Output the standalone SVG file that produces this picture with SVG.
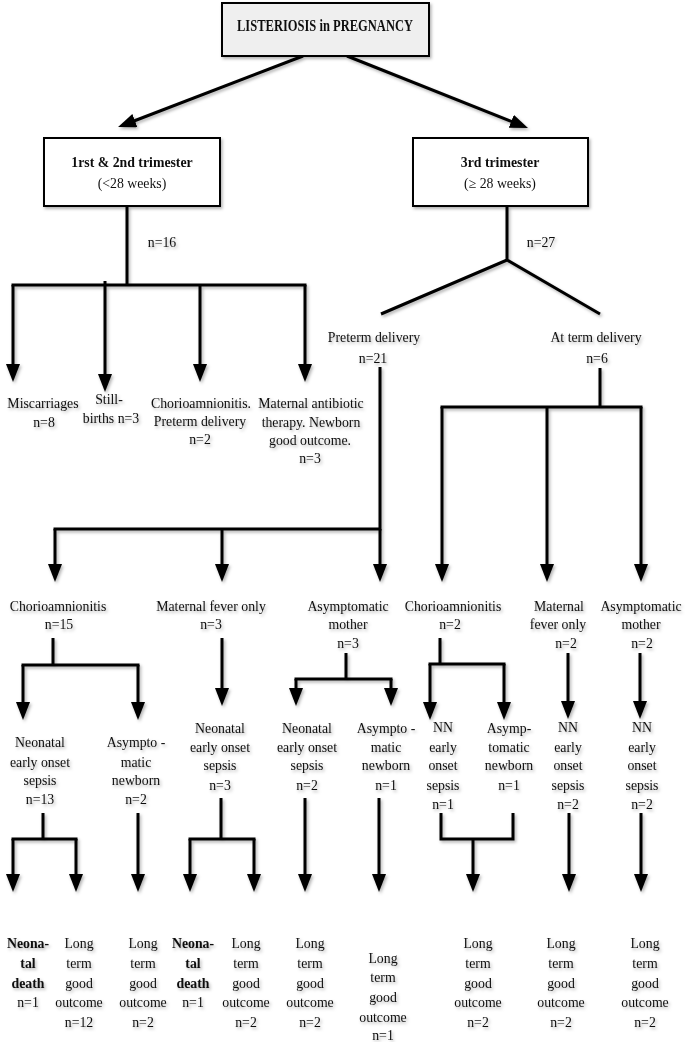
<svg xmlns="http://www.w3.org/2000/svg" width="685" height="1042" viewBox="0 0 685 1042">
<defs>
<style>
.t{font-family:"Liberation Serif","Times New Roman",serif;font-size:13.8px;text-anchor:middle;fill:#111}
.b{font-weight:bold}
.ln{stroke:#000;stroke-width:3;fill:none}
.ar{marker-end:url(#ah)}
.box{stroke:#000;stroke-width:2}
</style>
<marker id="ah" viewBox="0 0 18 14" refX="8" refY="7" markerWidth="18" markerHeight="14" markerUnits="userSpaceOnUse" orient="auto">
<path d="M0,0 L18,7 L0,14 z" fill="#000"/>
</marker>
<filter id="sh" x="-5%" y="-5%" width="110%" height="110%">
<feDropShadow dx="1.5" dy="2" stdDeviation="1.4" flood-color="#000" flood-opacity="0.3"/>
</filter>
</defs>
<rect width="685" height="1042" fill="#fff"/>
<g filter="url(#sh)">
<g id="connectors">
<path class="ln ar" d="M303,56 L127.4,123.5"/>
<path class="ln ar" d="M347,56 L518.7,124.3"/>
<path class="ln" d="M127,206 V285 M11.5,285 H306.5"/>
<path class="ln ar" d="M13,285 V372"/>
<path class="ln ar" d="M105,281 V382"/>
<path class="ln ar" d="M200,285 V372"/>
<path class="ln ar" d="M305,285 V372"/>
<path class="ln" d="M507,206 V260 M381,314 L507,260 L600,314"/>
<path class="ln" d="M380,367 V529 M53.5,529 H381.5"/>
<path class="ln ar" d="M55,529 V572"/>
<path class="ln ar" d="M222,529 V572"/>
<path class="ln ar" d="M380,529 V572"/>
<path class="ln" d="M600,368 V407 M440.5,407 H642.5"/>
<path class="ln ar" d="M442,407 V572"/>
<path class="ln ar" d="M547,407 V572"/>
<path class="ln ar" d="M641,407 V572"/>
<path class="ln" d="M53,638 V665 M21.5,665 H139.5"/>
<path class="ln ar" d="M23,665 V710"/>
<path class="ln ar" d="M138,665 V710"/>
<path class="ln ar" d="M222,638 V696"/>
<path class="ln" d="M346,653 V679 M294.5,679 H392.5"/>
<path class="ln ar" d="M296,679 V696"/>
<path class="ln ar" d="M391,679 V696"/>
<path class="ln" d="M440,638 V664 M428.5,664 H505.5"/>
<path class="ln ar" d="M430,664 V710"/>
<path class="ln ar" d="M504,664 V710"/>
<path class="ln ar" d="M568,653 V709"/>
<path class="ln ar" d="M640,653 V709"/>
<path class="ln" d="M43,813 V839 M11.5,839 H77.5"/>
<path class="ln ar" d="M13,839 V882"/>
<path class="ln ar" d="M76,839 V882"/>
<path class="ln ar" d="M138,813 V882"/>
<path class="ln" d="M221,798 V839 M188.5,839 H255.5"/>
<path class="ln ar" d="M190,839 V882"/>
<path class="ln ar" d="M254,839 V882"/>
<path class="ln ar" d="M305,798 V882"/>
<path class="ln ar" d="M379,798 V882"/>
<path class="ln" d="M441,813 V839 M513,813 V839 M439.5,839 H514.5"/>
<path class="ln ar" d="M473,839 V882"/>
<path class="ln ar" d="M569,813 V882"/>
<path class="ln ar" d="M641,813 V882"/>
</g>
<g id="root">
<rect class="box" x="222" y="3" width="207" height="53" fill="#efefef"/>
<text class="t b" x="325" y="31" style="font-size:16px" textLength="176" lengthAdjust="spacingAndGlyphs">LISTERIOSIS in PREGNANCY</text>
</g>
<g id="tri12">
<rect class="box" x="44" y="138" width="176" height="68" fill="#fff"/>
<text class="t b" x="132" y="167">1rst &amp; 2nd trimester</text>
<text class="t" x="132" y="188">(&lt;28 weeks)</text>
</g>
<g id="tri3">
<rect class="box" x="413" y="138" width="175" height="68" fill="#fff"/>
<text class="t b" x="500" y="167">3rd trimester</text>
<text class="t" x="500" y="188">(≥ 28 weeks)</text>
</g>
<g id="n16"><text class="t" x="162" y="247">n=16</text></g>
<g id="n27"><text class="t" x="541" y="247">n=27</text></g>
<g id="miscarriages"><text class="t" x="43" y="408">Miscarriages</text><text class="t" x="44" y="427">n=8</text></g>
<g id="stillbirths"><text class="t" x="109" y="404">Still-</text><text class="t" x="111" y="423">births n=3</text></g>
<g id="chorio-preterm"><text class="t" x="201" y="408">Chorioamnionitis.</text><text class="t" x="200" y="426">Preterm delivery</text><text class="t" x="200" y="444">n=2</text></g>
<g id="maternal-antibiotic"><text class="t" x="311" y="408">Maternal antibiotic</text><text class="t" x="311" y="427">therapy. Newborn</text><text class="t" x="310" y="445">good outcome.</text><text class="t" x="310" y="463">n=3</text></g>
<g id="preterm"><text class="t" x="374" y="342">Preterm delivery</text><text class="t" x="373" y="363">n=21</text></g>
<g id="atterm"><text class="t" x="596" y="342">At term delivery</text><text class="t" x="597" y="363">n=6</text></g>
<g id="pt-chorio"><text class="t" x="58" y="611">Chorioamnionitis</text><text class="t" x="59" y="629">n=15</text></g>
<g id="pt-fever"><text class="t" x="211" y="611">Maternal fever only</text><text class="t" x="211" y="629">n=3</text></g>
<g id="pt-asym"><text class="t" x="348" y="611">Asymptomatic</text><text class="t" x="348" y="629">mother</text><text class="t" x="348" y="648">n=3</text></g>
<g id="at-chorio"><text class="t" x="453" y="611">Chorioamnionitis</text><text class="t" x="450" y="629">n=2</text></g>
<g id="at-fever"><text class="t" x="559" y="611">Maternal</text><text class="t" x="558" y="629">fever only</text><text class="t" x="566" y="648">n=2</text></g>
<g id="at-asym"><text class="t" x="641" y="611">Asymptomatic</text><text class="t" x="641" y="629">mother</text><text class="t" x="642" y="648">n=2</text></g>
<g id="nn-sepsis-13"><text class="t" x="40" y="747">Neonatal</text><text class="t" x="40" y="767">early onset</text><text class="t" x="40" y="785">sepsis</text><text class="t" x="40" y="804">n=13</text></g>
<g id="asym-nb-2"><text class="t" x="136" y="747">Asympto -</text><text class="t" x="136" y="767">matic</text><text class="t" x="136" y="785">newborn</text><text class="t" x="136" y="804">n=2</text></g>
<g id="nn-sepsis-3"><text class="t" x="220" y="733">Neonatal</text><text class="t" x="220" y="752">early onset</text><text class="t" x="220" y="770">sepsis</text><text class="t" x="220" y="790">n=3</text></g>
<g id="nn-sepsis-2a"><text class="t" x="307" y="733">Neonatal</text><text class="t" x="307" y="752">early onset</text><text class="t" x="307" y="770">sepsis</text><text class="t" x="307" y="790">n=2</text></g>
<g id="asym-nb-1a"><text class="t" x="386" y="733">Asympto -</text><text class="t" x="386" y="752">matic</text><text class="t" x="386" y="770">newborn</text><text class="t" x="386" y="790">n=1</text></g>
<g id="nn-sepsis-1"><text class="t" x="443" y="732">NN</text><text class="t" x="443" y="752">early</text><text class="t" x="443" y="770">onset</text><text class="t" x="443" y="790">sepsis</text><text class="t" x="443" y="809">n=1</text></g>
<g id="asym-nb-1b"><text class="t" x="509" y="733">Asymp-</text><text class="t" x="509" y="752">tomatic</text><text class="t" x="509" y="770">newborn</text><text class="t" x="509" y="790">n=1</text></g>
<g id="nn-sepsis-2b"><text class="t" x="568" y="732">NN</text><text class="t" x="568" y="752">early</text><text class="t" x="568" y="770">onset</text><text class="t" x="568" y="790">sepsis</text><text class="t" x="568" y="809">n=2</text></g>
<g id="nn-sepsis-2c"><text class="t" x="642" y="732">NN</text><text class="t" x="642" y="752">early</text><text class="t" x="642" y="770">onset</text><text class="t" x="642" y="790">sepsis</text><text class="t" x="642" y="809">n=2</text></g>
<g id="death-1a"><text class="t b" x="28" y="948">Neona-</text><text class="t b" x="28" y="968">tal</text><text class="t b" x="28" y="988">death</text><text class="t" x="28" y="1007">n=1</text></g>
<g id="good-12"><text class="t" x="79" y="948">Long</text><text class="t" x="79" y="968">term</text><text class="t" x="79" y="988">good</text><text class="t" x="79" y="1007">outcome</text><text class="t" x="79" y="1027">n=12</text></g>
<g id="good-2a"><text class="t" x="143" y="948">Long</text><text class="t" x="143" y="968">term</text><text class="t" x="143" y="988">good</text><text class="t" x="143" y="1007">outcome</text><text class="t" x="143" y="1027">n=2</text></g>
<g id="death-1b"><text class="t b" x="193" y="948">Neona-</text><text class="t b" x="193" y="968">tal</text><text class="t b" x="193" y="988">death</text><text class="t" x="193" y="1007">n=1</text></g>
<g id="good-2b"><text class="t" x="246" y="948">Long</text><text class="t" x="246" y="968">term</text><text class="t" x="246" y="988">good</text><text class="t" x="246" y="1007">outcome</text><text class="t" x="246" y="1027">n=2</text></g>
<g id="good-2c"><text class="t" x="310" y="948">Long</text><text class="t" x="310" y="968">term</text><text class="t" x="310" y="988">good</text><text class="t" x="310" y="1007">outcome</text><text class="t" x="310" y="1027">n=2</text></g>
<g id="good-1"><text class="t" x="383" y="963">Long</text><text class="t" x="383" y="982">term</text><text class="t" x="383" y="1002">good</text><text class="t" x="383" y="1022">outcome</text><text class="t" x="383" y="1040">n=1</text></g>
<g id="good-2d"><text class="t" x="478" y="948">Long</text><text class="t" x="478" y="968">term</text><text class="t" x="478" y="988">good</text><text class="t" x="478" y="1007">outcome</text><text class="t" x="478" y="1027">n=2</text></g>
<g id="good-2e"><text class="t" x="561" y="948">Long</text><text class="t" x="561" y="968">term</text><text class="t" x="561" y="988">good</text><text class="t" x="561" y="1007">outcome</text><text class="t" x="561" y="1027">n=2</text></g>
<g id="good-2f"><text class="t" x="645" y="948">Long</text><text class="t" x="645" y="968">term</text><text class="t" x="645" y="988">good</text><text class="t" x="645" y="1007">outcome</text><text class="t" x="645" y="1027">n=2</text></g>
</g>
</svg>
